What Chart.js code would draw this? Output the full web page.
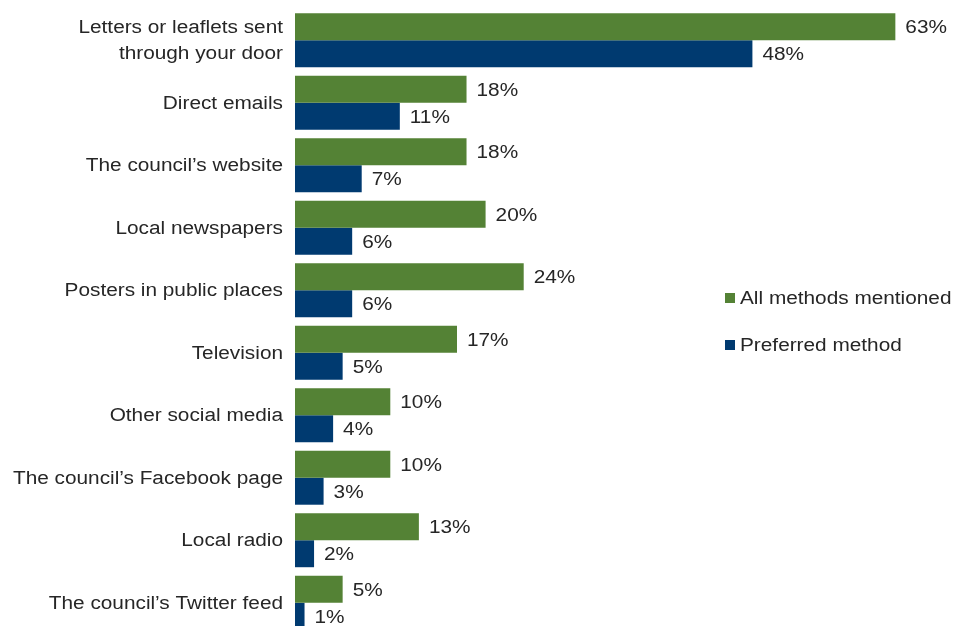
<!DOCTYPE html>
<html>
<head>
<meta charset="utf-8">
<script src="https://cdn.jsdelivr.net/npm/chart.js@4.4.1/dist/chart.umd.min.js"></script>
<style>
  html, body { margin: 0; padding: 0; background: #fff; overflow: hidden; }
  #wrap { width: 954px; height: 640px; }
</style>
</head>
<body>
<div id="wrap"><canvas id="c"></canvas></div>
<script>
// Communication methods and the share of respondents for each
const categories = [
  ["Letters or leaflets sent", "through your door"],
  "Direct emails",
  "The council\u2019s website",
  "Local newspapers",
  "Posters in public places",
  "Television",
  "Other social media",
  "The council\u2019s Facebook page",
  "Local radio",
  "The council\u2019s Twitter feed"
];
const allMethods = [63, 18, 18, 20, 24, 17, 10, 10, 13, 5];
const preferred  = [48, 11, 7, 6, 6, 5, 4, 3, 2, 1];
const seriesNames = ["All methods mentioned", "Preferred method"];

const GREEN = "#548235";
const NAVY = "#003A70";
const TEXT = "#262626";
const FONT = "18px 'Liberation Sans', Arial, sans-serif";
const STRETCH = 1.155; // text is set slightly wide

function wideText(ctx, text, x, y, align) {
  ctx.save();
  ctx.translate(x, y);
  ctx.scale(STRETCH, 1);
  ctx.textAlign = align;
  ctx.fillText(text, 0, 0);
  ctx.restore();
}

// Category names beside the bars, right-aligned against the plot
const categoryLabels = {
  id: "categoryLabels",
  afterDraw(chart) {
    const ctx = chart.ctx;
    const ys = chart.scales.y;
    ctx.save();
    ctx.font = FONT;
    ctx.fillStyle = TEXT;
    ctx.textBaseline = "middle";
    ys.getLabels().forEach((lab, i) => {
      const yc = ys.getPixelForValue(i) + 1;
      const lines = Array.isArray(lab) ? lab : [lab];
      lines.forEach((ln, k) => {
        wideText(ctx, ln, ys.right - 12, yc + (k - (lines.length - 1) / 2) * 26, "right");
      });
    });
    ctx.restore();
  }
};

// Percent labels just past the end of each bar
const valueLabels = {
  id: "valueLabels",
  afterDatasetsDraw(chart) {
    const ctx = chart.ctx;
    ctx.save();
    ctx.font = FONT;
    ctx.fillStyle = TEXT;
    ctx.textBaseline = "middle";
    chart.data.datasets.forEach((ds, di) => {
      chart.getDatasetMeta(di).data.forEach((bar, i) => {
        wideText(ctx, ds.data[i] + "%", bar.x + 10, bar.y + 1.5, "left");
      });
    });
    ctx.restore();
  }
};

// Legend drawn inside the plot, to the right of the shorter bars
const sideLegend = {
  id: "sideLegend",
  afterDraw(chart) {
    const ctx = chart.ctx;
    ctx.save();
    ctx.font = FONT;
    ctx.textBaseline = "middle";
    const ys = [298, 345];
    chart.data.datasets.forEach((ds, di) => {
      ctx.fillStyle = ds.backgroundColor;
      ctx.fillRect(725, ys[di] - 5, 10, 10);
      ctx.fillStyle = TEXT;
      wideText(ctx, ds.label, 740, ys[di] + 1, "left");
    });
    ctx.restore();
  }
};

new Chart(document.getElementById("c"), {
  type: "bar",
  data: {
    labels: categories,
    datasets: [
      { label: seriesNames[0], data: allMethods, backgroundColor: GREEN },
      { label: seriesNames[1], data: preferred, backgroundColor: NAVY }
    ]
  },
  options: {
    indexAxis: "y",
    responsive: true,
    maintainAspectRatio: false,
    animation: false,
    layout: { padding: { top: 9, bottom: 6, left: 0, right: 11 } },
    datasets: { bar: { categoryPercentage: 0.863, barPercentage: 1.0 } },
    plugins: {
      legend: { display: false },
      tooltip: { enabled: false }
    },
    scales: {
      x: {
        min: 0, max: 68,
        display: false,
        grid: { display: false }
      },
      y: {
        grid: { display: false, drawTicks: false },
        border: { display: false },
        ticks: { display: false },
        afterFit(s) {
          s.width = 295;
          s.paddingTop = 0;
          s.paddingBottom = 0;
        }
      }
    }
  },
  plugins: [valueLabels, categoryLabels, sideLegend]
});
</script>
</body>
</html>
